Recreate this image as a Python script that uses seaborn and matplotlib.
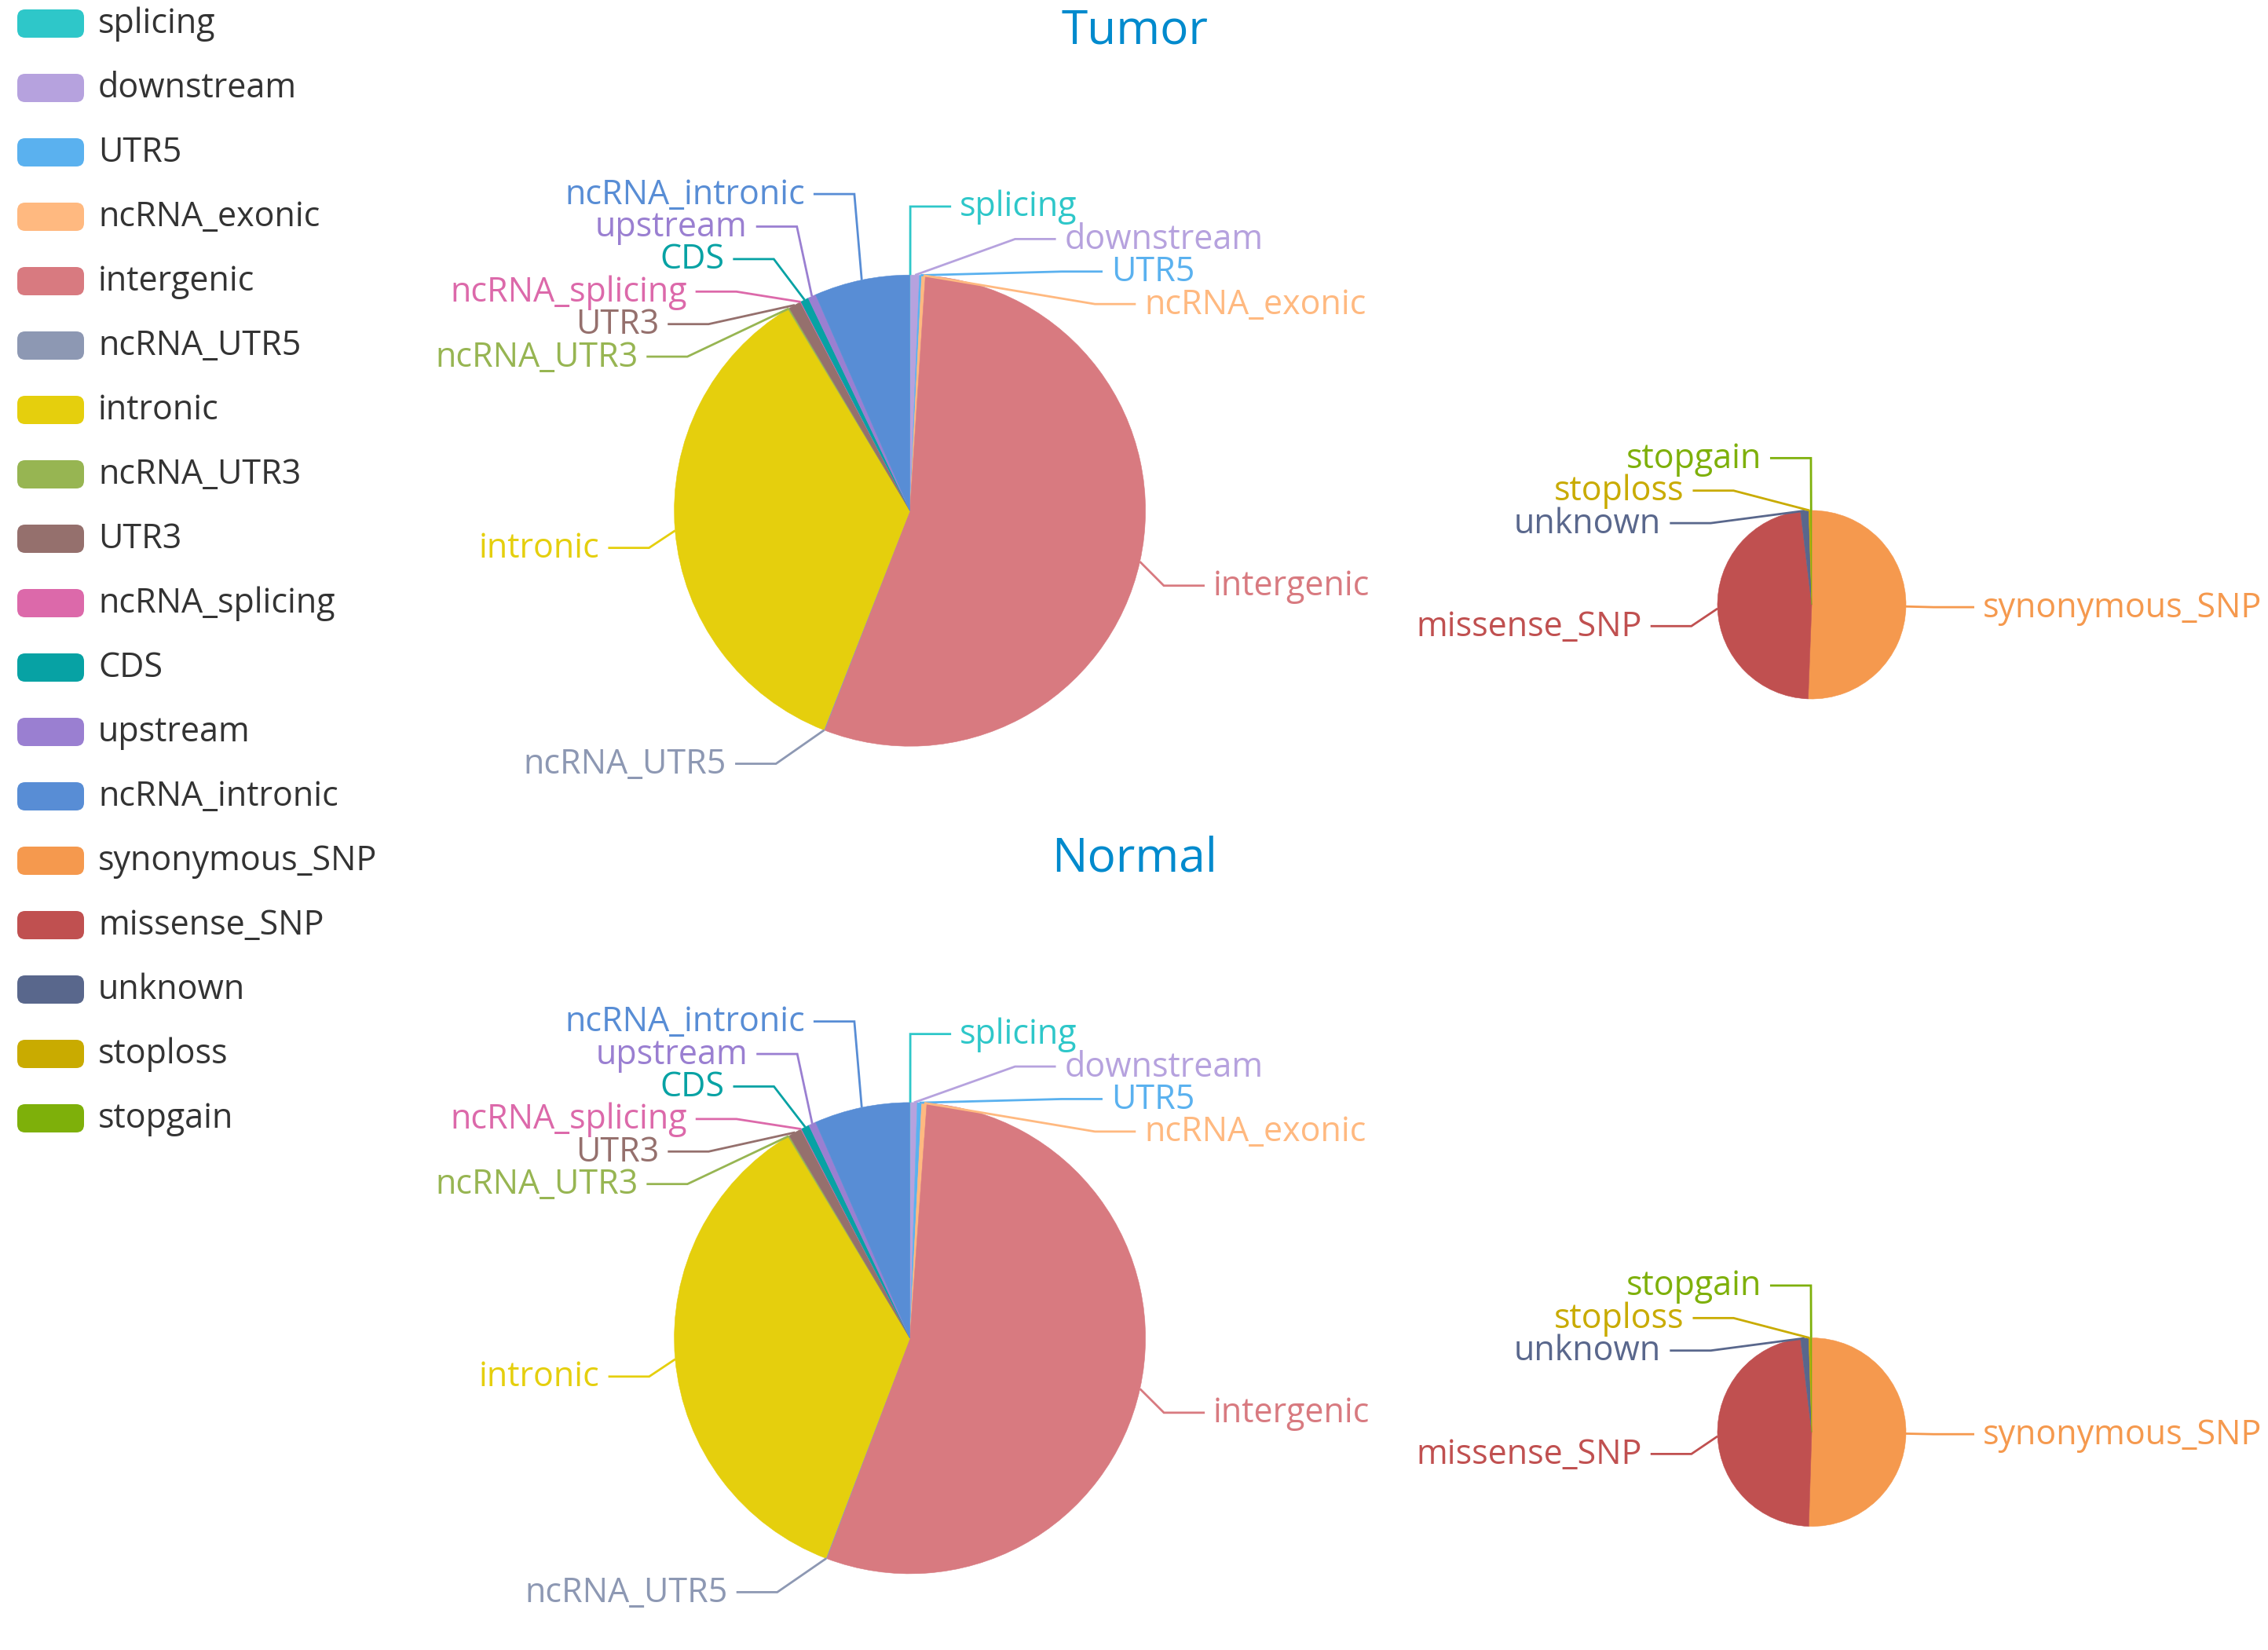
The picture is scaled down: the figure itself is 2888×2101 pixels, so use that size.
import math
import matplotlib
matplotlib.use("Agg")
import matplotlib.pyplot as plt
from matplotlib.patches import FancyBboxPatch
import seaborn as sns

# ---------------- data ----------------
region_categories = ["splicing", "downstream", "UTR5", "ncRNA_exonic", "intergenic",
                     "ncRNA_UTR5", "intronic", "ncRNA_UTR3", "UTR3", "ncRNA_splicing",
                     "CDS", "upstream", "ncRNA_intronic"]
tumor_region_values = [0.05, 0.6, 0.15, 0.25, 54.85, 0.05, 35.4, 0.1, 0.85, 0.05, 0.55, 0.55, 6.55]
normal_region_values = [0.05, 0.45, 0.3, 0.35, 54.6, 0.05, 35.55, 0.1, 0.9, 0.05, 0.55, 0.5, 6.55]

snp_categories = ["synonymous_SNP", "missense_SNP", "unknown", "stoploss", "stopgain"]
tumor_snp_values = [50.6, 47.5, 1.4, 0.3, 0.2]
normal_snp_values = [50.5, 47.6, 1.4, 0.3, 0.2]

panel_titles = ["Tumor", "Normal"]

legend_labels = region_categories + snp_categories

# ECharts "macarons" colours
region_colors = ['#2ec7c9', '#b6a2de', '#5ab1ef', '#ffb980', '#d87a80', '#8d98b3', '#e5cf0d',
                 '#97b552', '#95706d', '#dc69aa', '#07a2a4', '#9a7fd1', '#588dd5']
snp_colors = ['#f5994e', '#c05050', '#59678c', '#c9ab00', '#7eb00a']

# ---------------- layout / style ----------------
W, H = 2888, 2101
DPI = 100
BIG_R, SMALL_R = 300, 120
BIG_CX, SMALL_CX = 1158.6, 2307
ROW_CY = [650.2, 1703.9]
SMALL_CY = [770.0, 1823.6]
TITLE_Y = [56, 1110]
TITLE_X = 1445

LINE_LEN = 46
LINE_LEN2 = 52
LABEL_DIST = 11
LABEL_H = 41.4
LABEL_FS = 31
EM_PX = LABEL_FS * DPI / 72.0
BASE_OFF = 0.29 * EM_PX
TITLE_COLOR = '#008acd'

sns.set_theme(style="white")
plt.rcParams['font.family'] = ['Open Sans', 'DejaVu Sans']


def change_x(lst, is_down, cx, cy, r, direction):
    last = float('inf') if is_down else 0.0
    r3 = r + LINE_LEN + LINE_LEN2
    for d in lst:
        dY = abs(d['y'] - cy)
        if dY < r + LINE_LEN:
            dX = math.sqrt(r3 * r3 - dY * dY)
        else:
            dX = abs(d['x'] - cx)
        if is_down and dX >= last:
            dX = last - 18
        if (not is_down) and dX <= last:
            dX = last + 18
        d['x'] = cx + dX * direction
        last = dX


def adjust_side(lst, cx, cy, r, direction, top=0.0, height=float(H)):
    lst.sort(key=lambda d: d['y'])
    n = len(lst)

    def shift_up(end, delta):
        for j in range(end, -1, -1):
            if lst[j]['y'] - delta < top:
                break
            lst[j]['y'] -= delta
            if j > 0 and lst[j]['y'] > lst[j - 1]['y'] + LABEL_H:
                break

    def shift_down(start, end, delta):
        for j in range(start, end):
            if lst[j]['y'] + delta > top + height:
                break
            lst[j]['y'] += delta
            if j > start and j + 1 < end and lst[j + 1]['y'] > lst[j]['y'] + LABEL_H:
                shift_up(j, delta / 2.0)
                return
        shift_up(end - 1, delta / 2.0)

    last_y = 0.0
    for i in range(n):
        delta = lst[i]['y'] - last_y
        if delta < 0:
            shift_down(i, n, -delta)
        last_y = lst[i]['y'] + LABEL_H
    if n and height - last_y < 0:
        shift_up(n - 1, last_y - height)
    up = [d for d in lst if d['y'] < cy]
    down = [d for d in lst if d['y'] >= cy]
    change_x(up, False, cx, cy, r, direction)
    change_x(down, True, cx, cy, r, direction)


def label_layout(values, cx, cy, r):
    total = float(sum(values))
    items = []
    acc = 0.0
    for i, v in enumerate(values):
        frac = v / total
        mid = (acc + frac / 2.0) * 2 * math.pi
        acc += frac
        dx, dy = math.sin(mid), -math.cos(mid)
        x1, y1 = cx + r * dx, cy + r * dy
        x2, y2 = cx + (r + LINE_LEN) * dx, cy + (r + LINE_LEN) * dy
        side = -1 if dx < 0 else 1
        x3 = x2 + side * LINE_LEN2
        items.append(dict(idx=i, x1=x1, y1=y1, x=x3 + side * LABEL_DIST, y=y2, side=side))
    left = [it for it in items if it['x'] < cx]
    right = [it for it in items if it['x'] >= cx]
    adjust_side(right, cx, cy, r, 1)
    adjust_side(left, cx, cy, r, -1)
    for it in items:
        end = it['x'] - it['side'] * LABEL_DIST
        bend = end - it['side'] * LINE_LEN2
        it['line'] = [(it['x1'], it['y1']), (bend, it['y']), (end, it['y'])]
    return items


def draw_pie(ax, values, names, colors, cx, cy, r):
    wedges, _ = ax.pie(values, colors=colors, startangle=-90, counterclock=True,
                       center=(cx, cy), radius=r,
                       wedgeprops=dict(linewidth=0.4))
    for w, c in zip(wedges, colors):
        w.set_edgecolor(c)
    for it in label_layout(values, cx, cy, r):
        col = colors[it['idx']]
        xs = [p[0] for p in it['line']]
        ys = [p[1] for p in it['line']]
        ax.plot(xs, ys, color=col, lw=2.0, solid_capstyle='butt',
                solid_joinstyle='miter', zorder=3)
        ax.text(it['x'], it['y'] + BASE_OFF, names[it['idx']],
                ha='right' if it['side'] < 0 else 'left', va='baseline',
                color=col, fontsize=LABEL_FS, zorder=4)


fig = plt.figure(figsize=(W / DPI, H / DPI), dpi=DPI)
fig.patch.set_facecolor('white')
ax = fig.add_axes([0, 0, 1, 1])

region_sets = [tumor_region_values, normal_region_values]
snp_sets = [tumor_snp_values, normal_snp_values]
for k in range(2):
    draw_pie(ax, region_sets[k], region_categories, region_colors, BIG_CX, ROW_CY[k], BIG_R)
    draw_pie(ax, snp_sets[k], snp_categories, snp_colors, SMALL_CX, SMALL_CY[k], SMALL_R)
    ax.text(TITLE_X, TITLE_Y[k], panel_titles[k], ha='center', va='baseline',
            color=TITLE_COLOR, fontsize=43.5)

# legend
legend_colors = sns.color_palette(region_colors + snp_colors)
for i, (name, col) in enumerate(zip(legend_labels, legend_colors)):
    yc = 30 + 82 * i
    box = FancyBboxPatch((22, yc - 18), 85, 36,
                         boxstyle="round,pad=0,rounding_size=10",
                         facecolor=col, edgecolor='none', zorder=3)
    ax.add_patch(box)
    ax.text(125, yc + BASE_OFF, name, ha='left', va='baseline',
            color='#333333', fontsize=LABEL_FS, zorder=4)

ax.set_xlim(0, W)
ax.set_ylim(H, 0)
ax.set_aspect('equal')
ax.axis('off')

fig.savefig('out.png', dpi=DPI, facecolor='white')
